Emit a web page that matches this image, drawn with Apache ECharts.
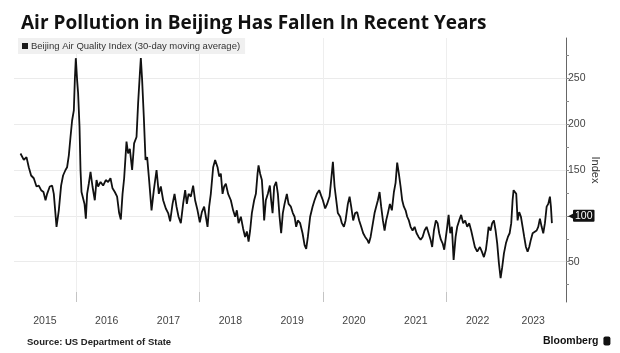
<!DOCTYPE html>
<html>
<head>
<meta charset="utf-8">
<script src="https://cdn.jsdelivr.net/npm/echarts@6/dist/echarts.min.js"></script>
<style>
  html, body { margin: 0; padding: 0; background: #fff; }
  #chart { width: 620px; height: 353px; }
</style>
</head>
<body>
<div id="chart"></div>
<script>
// decimal years, one line per stretch of the chart
const dates = [
  2015.105, 2015.131, 2015.159, 2015.202, 2015.239, 2015.277, 2015.320, 2015.364, 2015.401, 2015.439,
  2015.477, 2015.510, 2015.536, 2015.579, 2015.617, 2015.644, 2015.688, 2015.725, 2015.762, 2015.794,
  2015.833, 2015.859, 2015.887, 2015.914, 2015.940, 2015.968, 2015.984, 2016.000, 2016.021, 2016.037,
  2016.060, 2016.076, 2016.092, 2016.118, 2016.141, 2016.162, 2016.183, 2016.210, 2016.238,
  2016.270, 2016.307, 2016.335, 2016.361, 2016.400, 2016.442, 2016.485, 2016.523, 2016.561, 2016.594,
  2016.631, 2016.668, 2016.701, 2016.728, 2016.756, 2016.782, 2016.820, 2016.846, 2016.874, 2016.911,
  2016.943, 2016.982, 2017.008, 2017.036, 2017.052, 2017.073, 2017.100, 2017.128, 2017.154, 2017.186,
  2017.225, 2017.262, 2017.306, 2017.343, 2017.375, 2017.413, 2017.456, 2017.494, 2017.526,
  2017.565, 2017.597, 2017.629, 2017.662, 2017.699, 2017.736, 2017.769, 2017.796, 2017.824, 2017.861,
  2017.898, 2017.930, 2017.969, 2018.006, 2018.039, 2018.076, 2018.104, 2018.131, 2018.157, 2018.184,
  2018.222, 2018.254, 2018.293, 2018.319, 2018.346, 2018.374, 2018.400, 2018.427, 2018.464, 2018.508,
  2018.545, 2018.578, 2018.605, 2018.633, 2018.670, 2018.707, 2018.739,
  2018.767, 2018.795, 2018.820, 2018.848, 2018.885, 2018.913, 2018.940, 2018.956, 2018.982, 2019.010,
  2019.031, 2019.047, 2019.074, 2019.107, 2019.139, 2019.160, 2019.183, 2019.209, 2019.241, 2019.269,
  2019.296, 2019.322, 2019.349, 2019.377, 2019.414, 2019.442, 2019.479, 2019.511, 2019.539, 2019.565,
  2019.592, 2019.629, 2019.668, 2019.701, 2019.727, 2019.754, 2019.791, 2019.830, 2019.862, 2019.900,
  2019.937, 2019.969,
  2019.997, 2020.034, 2020.066, 2020.105, 2020.131, 2020.159, 2020.186, 2020.212, 2020.239, 2020.277,
  2020.304, 2020.337, 2020.364, 2020.401, 2020.429, 2020.455, 2020.487, 2020.519, 2020.552, 2020.584,
  2020.617, 2020.649, 2020.681, 2020.714, 2020.741, 2020.769, 2020.806, 2020.833, 2020.859, 2020.887,
  2020.914, 2020.940, 2020.968, 2020.995, 2021.021, 2021.049, 2021.081, 2021.113, 2021.146, 2021.173,
  2021.199,
  2021.226, 2021.254, 2021.280, 2021.307, 2021.335, 2021.361, 2021.388, 2021.416, 2021.448, 2021.481,
  2021.513, 2021.545, 2021.578, 2021.610, 2021.642, 2021.675, 2021.707, 2021.739, 2021.765, 2021.793,
  2021.825, 2021.853, 2021.879, 2021.906, 2021.934, 2021.960, 2021.987, 2022.008, 2022.031, 2022.057,
  2022.084, 2022.112, 2022.144, 2022.170, 2022.202, 2022.234, 2022.267, 2022.299, 2022.332, 2022.364,
  2022.396, 2022.429,
  2022.456, 2022.494, 2022.537, 2022.569, 2022.602, 2022.634, 2022.655, 2022.678, 2022.710, 2022.736,
  2022.764, 2022.791, 2022.817, 2022.845, 2022.872, 2022.898, 2022.926, 2022.958, 2022.990, 2023.018,
  2023.044, 2023.066, 2023.082, 2023.104, 2023.125, 2023.147, 2023.173, 2023.201, 2023.228, 2023.254,
  2023.282, 2023.309, 2023.335, 2023.362, 2023.390, 2023.422, 2023.455, 2023.481, 2023.508, 2023.536,
  2023.562, 2023.589, 2023.617, 2023.643, 2023.670, 2023.686, 2023.702
];

// Beijing AQI, 30-day moving average (same line layout as dates)
const aqi = [
  168, 170, 161, 164, 153, 144, 141, 132, 133, 128,
  126, 117, 124, 132, 133, 124, 88, 106, 133, 144,
  150, 153, 166, 186, 204, 215, 248, 272, 248, 234,
  197, 150, 126, 124, 113, 97, 124, 135, 148,
  132, 117, 139, 132, 137, 133, 139, 137, 141, 130,
  126, 121, 103, 96, 124, 141, 181, 168, 173, 150,
  179, 186, 223, 255, 272, 248, 208, 161, 164, 139,
  106, 128, 150, 124, 132, 117, 108, 103, 94,
  113, 124, 110, 99, 92, 113, 128, 113, 124, 121,
  133, 117, 106, 93, 104, 110, 99, 88, 110, 124,
  153, 161, 153, 143, 146, 124, 132, 135, 124, 117,
  106, 99, 106, 92, 99, 86, 77,
  83, 72, 84, 103, 117, 124, 146, 155, 146, 139,
  117, 95, 117, 124, 133, 117, 103, 132, 137, 124,
  99, 81, 103, 113, 124, 113, 110, 103, 99, 88,
  95, 92, 81, 68, 64, 77, 99, 110, 117, 124,
  128, 122,
  117, 108, 113, 121, 139, 159, 132, 130, 103, 99,
  92, 88, 95, 113, 121, 110, 95, 103, 104, 95,
  88, 81, 77, 74, 70, 77, 92, 103, 110, 117,
  126, 110, 95, 84, 95, 103, 113, 106, 126, 136,
  158,
  146, 132, 117, 110, 106, 99, 95, 88, 84, 88,
  81, 77, 74, 77, 84, 88, 86, 74, 66, 84,
  95, 92, 81, 74, 70, 63, 77, 88, 101, 81,
  88, 52, 77, 88, 95, 101, 92, 95, 88, 92,
  84, 74,
  66, 61, 66, 61, 55, 63, 74, 88, 84, 92,
  95, 84, 70, 48, 32, 44, 59, 70, 77, 81,
  92, 117, 128, 130, 124, 95, 104, 99, 88, 77,
  66, 61, 66, 74, 81, 79, 84, 88, 97, 88,
  81, 92, 110, 113, 121, 110, 92
];

const yearLabels = [2015.5, 2016.5, 2017.5, 2018.5, 2019.5, 2020.5, 2021.5, 2022.5, 2023.4];
const yearTicks = [2016, 2018, 2020, 2022];
const yLabels = [50, 100, 150, 200, 250];
const yTicks = [25, 50, 75, 100, 125, 150, 175, 200, 225, 250, 275];

if (dates.length !== aqi.length) {
  console.error("dates/aqi length mismatch", dates.length, aqi.length);
}

const seriesName = "Beijing Air Quality Index (30-day moving average)";
const font = "'Liberation Sans', Arial, sans-serif";

const chart = echarts.init(document.getElementById("chart"), null, { renderer: "canvas" });

const option = {
  animation: false,
  backgroundColor: "#fff",
  textStyle: { fontFamily: font },
  title: [
    {
      text: "Air Pollution in Beijing Has Fallen In Recent Years",
      left: 16,
      top: 9,
      textStyle: { fontFamily: "'Open Sans', sans-serif", fontSize: 19, fontWeight: "bold", color: "#111" }
    },
    {
      text: "Source: US Department of State",
      left: 22,
      top: 332,
      textStyle: { fontFamily: font, fontSize: 9.5, fontWeight: "bold", color: "#222" }
    },
    {
      text: "{b|Bloomberg} {logo|}",
      left: 538,
      top: 327,
      textStyle: {
        rich: {
          b: { fontFamily: font, fontSize: 10.5, fontWeight: "bold", color: "#111" },
          logo: { backgroundColor: "#111", width: 7, height: 9, borderRadius: 2 }
        }
      }
    }
  ],
  legend: {
    data: [seriesName],
    left: 18,
    top: 38,
    icon: "rect",
    itemWidth: 6,
    itemHeight: 6,
    itemGap: 4,
    padding: [3, 5, 3, 4],
    backgroundColor: "#f0f0f0",
    textStyle: { fontFamily: font, fontSize: 9.5, color: "#333", padding: [0, 0, 0, -2] }
  },
  grid: {
    left: 14,
    right: 54,
    top: 38,
    bottom: 51,
    outerBoundsMode: "none"
  },
  xAxis: {
    type: "value",
    min: 2015.0,
    max: 2023.93,
    axisLine: { show: false },
    axisTick: {
      show: true,
      inside: true,
      length: 10,
      customValues: yearTicks,
      lineStyle: { color: "#c4c4c4" }
    },
    axisLabel: {
      customValues: yearLabels,
      formatter: (v) => String(Math.floor(v)),
      color: "#444",
      fontSize: 10.5,
      margin: 14
    },
    splitLine: { show: true, lineStyle: { color: "#eeeeee", width: 1 } }
  },
  yAxis: [
    {
      type: "value",
      position: "right",
      min: 6,
      max: 294,
      name: "Index",
      nameLocation: "middle",
      nameRotate: -90,
      nameGap: 24,
      nameMoveOverlap: false,
      nameTextStyle: { fontFamily: font, fontSize: 11, color: "#333" },
      axisLine: { show: true, lineStyle: { color: "#666", width: 1 } },
      axisTick: {
        show: true,
        length: 3,
        customValues: yTicks,
        lineStyle: { color: "#888" }
      },
      axisLabel: {
        customValues: yLabels,
        margin: 2,
        color: "#444",
        fontSize: 10.5,
        formatter: (v) => (v === 100 ? "{arrow|◀}{badge|100}" : String(v)),
        rich: {
          arrow: { color: "#111", fontSize: 7, padding: [0, 0, 0, 0] },
          badge: {
            color: "#fff",
            backgroundColor: "#111",
            fontSize: 10.5,
            padding: [1, 2, 0, 2],
            borderRadius: 1
          }
        }
      },
      splitLine: { show: false }
    },
    {
      type: "value",
      position: "left",
      min: 6,
      max: 294,
      axisLine: { show: false },
      axisTick: { show: false, customValues: yLabels },
      axisLabel: { show: false },
      splitLine: { show: true, lineStyle: { color: "#ebebeb", width: 1 } }
    }
  ],
  series: [
    {
      name: seriesName,
      type: "line",
      yAxisIndex: 0,
      showSymbol: false,
      symbol: "none",
      itemStyle: { color: "#1a1a1a" },
      lineStyle: { color: "#111", width: 1.8 },
      data: dates.map((d, i) => [d, aqi[i]])
    }
  ]
};

chart.setOption(option);
</script>
</body>
</html>
